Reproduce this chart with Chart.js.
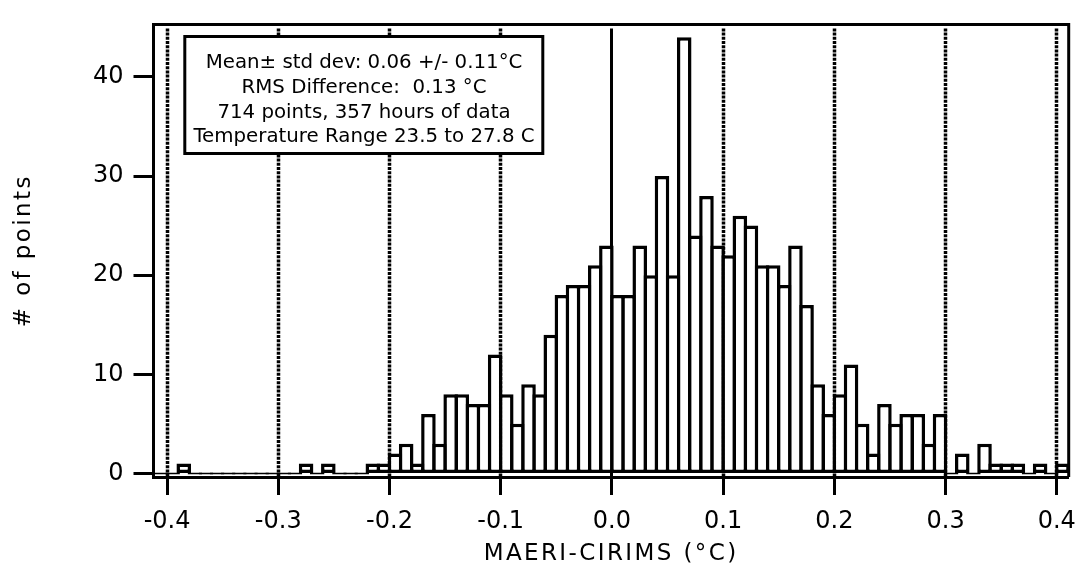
<!DOCTYPE html>
<html><head><meta charset="utf-8">
<script src="https://cdn.jsdelivr.net/npm/chart.js@4"></script>
<style>html,body{margin:0;padding:0;background:#fff;}#wrap{width:1088px;height:570px;position:relative;}</style>
</head><body><div id="wrap"><canvas id="c"></canvas></div>
<script>
const binCenters = [-0.405,-0.395,-0.385,-0.375,-0.365,-0.355,-0.345,-0.335,-0.325,-0.315,
  -0.305,-0.295,-0.285,-0.275,-0.265,-0.255,-0.245,-0.235,-0.225,-0.215,
  -0.205,-0.195,-0.185,-0.175,-0.165,-0.155,-0.145,-0.135,-0.125,-0.115,
  -0.105,-0.095,-0.085,-0.075,-0.065,-0.055,-0.045,-0.035,-0.025,-0.015,
  -0.005,0.005,0.015,0.025,0.035,0.045,0.055,0.065,0.075,0.085,
  0.095,0.105,0.115,0.125,0.135,0.145,0.155,0.165,0.175,0.185,
  0.195,0.205,0.215,0.225,0.235,0.245,0.255,0.265,0.275,0.285,
  0.295,0.305,0.315,0.325,0.335,0.345,0.355,0.365,0.375,0.385,
  0.395,0.405];
const counts = [0,0,1,0,0,0,0,0,0,0,
  0,0,0,1,0,1,0,0,0,1,
  1,2,3,1,6,3,8,8,7,7,
  12,8,5,9,8,14,18,19,19,21,
  23,18,18,23,20,30,20,44,24,28,
  23,22,26,25,21,21,19,23,17,9,
  6,8,11,5,2,7,5,6,6,3,
  6,0,2,0,3,1,1,1,0,1,
  0,1];
const xTickValues = [-0.4,-0.3,-0.2,-0.1,0,0.1,0.2,0.3,0.4];
const yTickValues = [0,10,20,30,40];
const xTitle = 'MAERI-CIRIMS (°C)';
const yTitle = '# of points';
const noteLines = ['Mean\u00b1 std dev: 0.06 +/- 0.11\u00b0C','RMS Difference:  0.13 \u00b0C','714 points, 357 hours of data','Temperature Range 23.5 to 27.8 C'];

Chart.defaults.font.family = "'DejaVu Sans', sans-serif";
Chart.defaults.color = '#000';

const framePlugin = {
  id: 'frame',
  beforeDraw(chart){ chart.ctx.letterSpacing = '2.4px'; },
  beforeDatasetsDraw(chart){
    const ctx = chart.ctx; ctx.letterSpacing = '0px';
    const {top,bottom} = chart.chartArea;
    const xs = chart.scales.x;
    ctx.save();
    ctx.strokeStyle = '#000';
    xTickValues.forEach(v => {
      const px = Math.floor(xs.getPixelForValue(v)) + 0.5;
      ctx.lineWidth = v === 0 ? 3 : 3.5;
      ctx.setLineDash(v === 0 ? [] : [3,1.2]);
      ctx.beginPath(); ctx.moveTo(px, top + 4); ctx.lineTo(px, bottom); ctx.stroke();
    });
    ctx.restore();
  },
  afterDraw(chart){
    const ctx = chart.ctx; ctx.letterSpacing = '0px';
    const {top,bottom,left,right} = chart.chartArea;
    ctx.save();
    ctx.strokeStyle = '#000'; ctx.lineWidth = 3;
    ctx.beginPath(); ctx.moveTo(left, top); ctx.lineTo(right, top); ctx.lineTo(right, bottom); ctx.stroke();
    // annotation box
    ctx.fillStyle = '#fff';
    ctx.fillRect(184.8, 36.5, 358, 117);
    ctx.strokeRect(184.8, 36.5, 358, 117);
    ctx.fillStyle = '#000';
    ctx.font = "19.8px 'DejaVu Sans'";
    ctx.textAlign = 'center'; ctx.textBaseline = 'alphabetic';
    const base = [68, 93, 118, 142];
    noteLines.forEach((t,i) => ctx.fillText(t, 364, base[i]));
    ctx.restore();
  }
};

new Chart(document.getElementById('c'), {
  type: 'bar',
  data: { datasets: [{
    data: binCenters.map((x,i) => ({x: x, y: counts[i]})),
    backgroundColor: '#fff', borderColor: '#000', borderWidth: 3.5, borderSkipped: false,
    barPercentage: 1.31, categoryPercentage: 1, minBarLength: 2, inflateAmount: 0
  }]},
  options: {
    responsive: true, maintainAspectRatio: false, animation: false, devicePixelRatio: 1,
    layout: { padding: { top: 9, right: 8.5, left: 0, bottom: 0 } },
    plugins: { legend: {display:false}, tooltip: {enabled:false} },
    scales: {
      x: {
        type: 'linear', min: -0.4122, max: 0.4107, offset: false,
        afterBuildTicks: s => { s.ticks = xTickValues.map(v => ({value: v})); },
        afterFit: s => { s.height = 93; },
        ticks: { callback: v => Number(v).toFixed(1), font: {size: 24}, padding: 12, maxRotation: 0, autoSkip: false, z: 1, color: '#000' },
        grid: { offset: false, drawOnChartArea: false, drawTicks: true, tickLength: 18, tickWidth: 3, tickColor: '#000' },
        border: { color: '#000', width: 3 },
        title: { display: true, text: xTitle, font: {size: 23}, color: '#000', padding: {top: 0, bottom: 2} }
      },
      y: {
        type: 'linear', min: -0.36, max: 45.3,
        afterBuildTicks: s => { s.ticks = yTickValues.map(v => ({value: v})); },
        afterFit: s => { s.width = 153.5; },
        ticks: { callback: v => String(v), font: {size: 24}, padding: 10, z: 1, color: '#000' },
        grid: { drawOnChartArea: false, drawTicks: true, tickLength: 20, tickWidth: 3, tickColor: '#000' },
        border: { color: '#000', width: 3 },
        title: { display: true, text: yTitle, font: {size: 23}, color: '#000', padding: {top: 10, bottom: 0} }
      }
    }
  },
  plugins: [framePlugin]
});
</script></body></html>
